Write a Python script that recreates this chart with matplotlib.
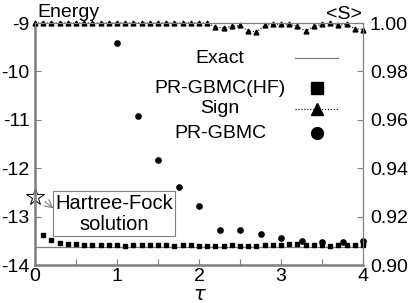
import matplotlib
matplotlib.use("Agg")
import matplotlib.pyplot as plt
import numpy as np

plt.rcParams.update({"font.family": ["Liberation Sans", "DejaVu Sans"],
                     "font.size": 14, "axes.unicode_minus": False})

GRAY = "#7f7f7f"

# ---- data ----
tau_hf = np.round(np.arange(1, 41) * 0.1, 2)
e_hf = [-13.38, -13.49, -13.55, -13.57, -13.57, -13.58, -13.59, -13.58, -13.58, -13.58,
        -13.60, -13.59, -13.59, -13.59, -13.59, -13.59, -13.60, -13.59, -13.59, -13.60,
        -13.60, -13.60, -13.61, -13.59, -13.60, -13.60, -13.61, -13.59, -13.59, -13.59,
        -13.57, -13.57, -13.58, -13.59, -13.59, -13.61, -13.59, -13.58, -13.59, -13.59]

tau_gb = np.round(np.arange(4, 17) * 0.25, 2)
e_gb = [-9.42, -10.92, -11.83, -12.38, -12.78, -13.28, -13.28, -13.35, -13.44,
        -13.50, -13.53, -13.53, -13.50]

tau_sign = np.round(np.arange(0, 41) * 0.1, 2)
sign = [1.0] * 20 + [1.000, 1.000, 0.9983, 0.998, 0.9986, 0.999, 0.9967, 0.9963, 0.999,
                     0.9995, 0.9995, 0.9995, 0.9986, 0.9967, 0.9986, 0.9995, 1.000,
                     0.999, 0.9995, 0.9977, 0.9973]

e_exact = -13.62
e_hf0 = -12.59

fig = plt.figure(figsize=(4.09, 3.03), dpi=100)
ax = fig.add_axes([35 / 409, 38 / 303, 328 / 409, 242 / 303])
ax2 = ax.twinx()

ax.axhline(e_exact, color=GRAY, lw=0.9)
ax.plot(tau_hf, e_hf, "s", color="black", ms=3, clip_on=False)
ax.plot(tau_gb, e_gb, "o", color="black", ms=3.8, clip_on=False)
ax2.plot(tau_sign, sign, ":", color="black", lw=0.8, marker="^", ms=3.5, clip_on=False)

ax.plot([0], [e_hf0], marker="*", ms=13, mfc="white", mec="black", mew=0.7, clip_on=False)
ax.annotate("", xy=(0.225, -12.83), xytext=(0.12, -12.69),
            arrowprops=dict(arrowstyle="->", color=GRAY, lw=0.8, shrinkA=0, shrinkB=0))
ax.text(0.241, 0.211, "Hartree-Fock\nsolution", transform=ax.transAxes, ha="center",
        va="center", linespacing=1.15, fontsize=14.5,
        bbox=dict(boxstyle="square,pad=0.12", fc="white", ec=GRAY, lw=0.8))

ax.set_xlim(0, 4)
ax.set_ylim(-14, -9)
ax2.set_ylim(0.90, 1.00)
ax.set_xticks([0, 1, 2, 3, 4])
ax.set_xticks(np.arange(0.5, 4, 1.0), minor=True)
ax.set_yticks([-14, -13, -12, -11, -10, -9])
ax2.set_yticks([0.90, 0.92, 0.94, 0.96, 0.98, 1.00])
ax2.set_yticklabels([f"{v:.2f}" for v in [0.90, 0.92, 0.94, 0.96, 0.98, 1.00]])

ax.tick_params(axis="both", which="both", direction="in", color=GRAY, length=4, width=0.8)
ax.tick_params(axis="y", pad=4)
ax.tick_params(axis="x", pad=2)
ax2.tick_params(direction="in", color=GRAY, length=4, width=0.8, pad=5)

for a in (ax, ax2):
    for s in a.spines.values():
        s.set_color(GRAY)
        s.set_linewidth(0.8)
ax.spines["left"].set_linewidth(1.8)
ax.spines["bottom"].set_linewidth(1.8)

# axis titles
ax.text(0.006, 1.045, "Energy", transform=ax.transAxes, ha="left", va="center")
ax.text(0.997, 1.037, "<S>", transform=ax.transAxes, ha="right", va="center")
ax.text(0.503, -0.125, r"$\tau$", transform=ax.transAxes, ha="center", va="center", fontsize=14)

# legend, laid out by hand
rows = [("Exact", 0.855), ("PR-GBMC(HF)", 0.731), ("Sign", 0.645), ("PR-GBMC", 0.545)]
for lbl, y in rows:
    ax.text(0.564, y, lbl, transform=ax.transAxes, ha="center", va="center")
ax.plot([0.793, 0.924], [0.855, 0.855], color=GRAY, lw=0.9, transform=ax.transAxes)
ax.plot([0.859], [0.731], "s", color="black", ms=8.5, transform=ax.transAxes)
ax.plot([0.793, 0.924], [0.645, 0.645], ":", color="black", lw=0.8, transform=ax.transAxes)
ax.plot([0.859], [0.645], "^", color="black", ms=9, transform=ax.transAxes)
ax.plot([0.859], [0.545], "o", color="black", ms=8.5, transform=ax.transAxes)

fig.savefig("out.png")
